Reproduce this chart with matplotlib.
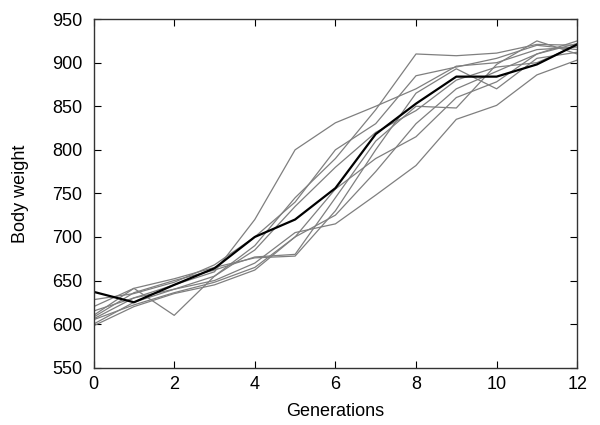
import numpy as np
import matplotlib
matplotlib.use('Agg')
import matplotlib.pyplot as plt

plt.rcParams['font.family'] = ['Liberation Sans', 'DejaVu Sans']

generations = list(range(13))

# linea media (negra)
media = [637, 625, 645, 664, 700, 720, 756, 818, 853, 884, 884, 898, 921]

# lineas individuales (grises)
linea_1 = [606, 630, 645, 660, 720, 800, 831, 850, 870, 896, 900, 915, 918]
linea_2 = [620, 641, 610, 655, 690, 745, 790, 846, 910, 908, 911, 921, 920]
linea_3 = [610, 641, 652, 665, 676, 678, 730, 800, 865, 893, 870, 905, 912]
linea_4 = [608, 636, 650, 662, 677, 680, 745, 810, 850, 848, 898, 925, 910]
linea_5 = [600, 625, 640, 650, 670, 705, 715, 748, 782, 835, 851, 886, 903]
linea_6 = [605, 622, 636, 648, 665, 700, 725, 775, 830, 870, 890, 910, 925]
linea_7 = [628, 635, 648, 668, 700, 740, 800, 830, 885, 895, 905, 920, 915]
linea_8 = [615, 630, 640, 655, 685, 735, 780, 820, 845, 880, 895, 900, 920]
linea_9 = [598, 620, 635, 645, 662, 700, 755, 790, 815, 860, 878, 910, 922]

lineas = [linea_1, linea_2, linea_3, linea_4, linea_5,
          linea_6, linea_7, linea_8, linea_9]

fig = plt.figure(figsize=(6, 4.25), dpi=100)
ax = fig.add_axes([0.156, 0.135, 0.806, 0.82])

for l in lineas:
    ax.plot(generations, l, color='#7f7f7f', linewidth=0.9)
ax.plot(generations, media, color='black', linewidth=1.6)

ax.set_xlim(0, 12)
ax.set_ylim(550, 950)
ax.set_xticks(range(0, 13, 2))
ax.set_yticks(range(550, 951, 50))
ax.tick_params(direction='in', top=True, right=True, length=5,
               labelsize=13, width=0.8)
ax.tick_params(axis='y', pad=8)
ax.tick_params(axis='x', pad=6)
for s in ax.spines.values():
    s.set_linewidth(1.0)
    s.set_color('#333333')

ax.set_xlabel('Generations', fontsize=13, labelpad=7)
ax.set_ylabel('Body weight', fontsize=13, labelpad=17)

fig.savefig('out.png', dpi=100)
